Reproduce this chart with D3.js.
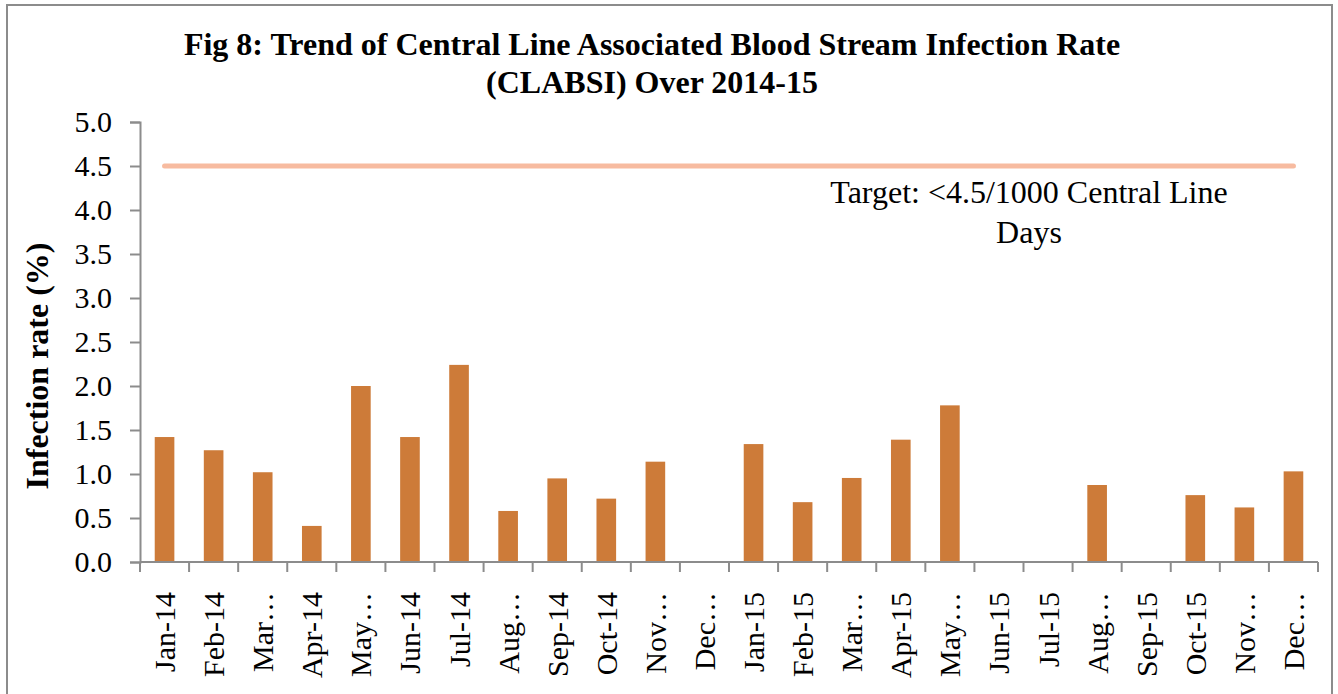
<!DOCTYPE html>
<html lang="en">
<head>
<meta charset="utf-8">
<title>Fig 8: CLABSI trend 2014-15</title>
<script src="https://d3js.org/d3.v7.min.js"></script>
<style>
  body { margin: 0; background: #fff; }
  text { font-family: "Liberation Serif", "Times New Roman", serif; fill: #000; }
</style>
</head>
<body>
<script>
// month labels as shown on the axis (Excel truncates some of them)
var months = ["Jan-14","Feb-14","Mar…","Apr-14","May…","Jun-14","Jul-14","Aug…","Sep-14","Oct-14","Nov…","Dec…",
              "Jan-15","Feb-15","Mar…","Apr-15","May…","Jun-15","Jul-15","Aug…","Sep-15","Oct-15","Nov…","Dec…"];
// infection rate per month
var rates = [1.42,1.27,1.02,0.41,2.0,1.42,2.24,0.58,0.95,0.72,1.14,0,
             1.34,0.68,0.955,1.39,1.78,0,0,0.875,0,0.76,0.62,1.03];
// target series
var target = months.map(function() { return 4.5; });
var yTicks = [0,0.5,1,1.5,2,2.5,3,3.5,4,4.5,5];

var w = 1338, h = 694;
var plotLeft = 140, plotRight = 1318, plotTop = 122, plotBottom = 562;

var svg = d3.select("body").append("svg")
    .attr("width", w)
    .attr("height", h);

// outer chart border
svg.append("rect")
    .attr("x", 7).attr("y", 5)
    .attr("width", 1325).attr("height", 700)
    .attr("fill", "none")
    .attr("stroke", "#8c8c8c")
    .attr("stroke-width", 2);

var x = d3.scaleBand()
    .domain(d3.range(months.length))
    .range([plotLeft, plotRight])
    .paddingInner(0.6)
    .paddingOuter(0.3);

var y = d3.scaleLinear()
    .domain([0, 5])
    .range([plotBottom, plotTop]);

// title
var title = svg.append("text")
    .attr("text-anchor", "middle")
    .style("font-weight", "bold")
    .style("font-size", "32px");
title.append("tspan").attr("x", 652).attr("y", 55)
    .text("Fig 8: Trend of Central Line Associated Blood Stream Infection Rate");
title.append("tspan").attr("x", 652).attr("y", 93)
    .text("(CLABSI) Over 2014-15");

// bars
svg.selectAll("rect.bar")
    .data(rates)
    .enter()
    .append("rect")
    .attr("class", "bar")
    .attr("x", function(d, i) { return x(i); })
    .attr("width", x.bandwidth())
    .attr("y", function(d) { return y(d); })
    .attr("height", function(d) { return y(0) - y(d); })
    .attr("fill", "#cd7b39");

// target line
var line = d3.line()
    .x(function(d, i) { return x(i) + x.bandwidth() / 2; })
    .y(function(d) { return y(d); });

svg.append("path")
    .datum(target)
    .attr("d", line)
    .attr("fill", "none")
    .attr("stroke", "#f7bba0")
    .attr("stroke-width", 5)
    .attr("stroke-linecap", "round");

// y axis
var yAxis = svg.append("g")
    .attr("transform", "translate(" + plotLeft + ",0)")
    .call(d3.axisLeft(y).tickValues(yTicks).tickFormat(d3.format(".1f")).tickSize(10).tickSizeOuter(10));
yAxis.select(".domain").attr("stroke", "#8c8c8c").attr("stroke-width", 2);
yAxis.selectAll(".tick line").attr("stroke", "#8c8c8c").attr("stroke-width", 2);
yAxis.selectAll(".tick text")
    .attr("x", -28)
    .style("font-size", "30px")
    .style("font-family", "'Liberation Serif', serif")
    .attr("fill", "#000");

// x axis: ticks sit between the categories
var step = x.step();
var edges = d3.range(months.length + 1).map(function(i) { return plotLeft + i * step; });
var xAxis = svg.append("g");
xAxis.append("line")
    .attr("x1", plotLeft).attr("x2", plotRight)
    .attr("y1", plotBottom).attr("y2", plotBottom)
    .attr("stroke", "#8c8c8c").attr("stroke-width", 2);
xAxis.selectAll("line.tick")
    .data(edges)
    .enter()
    .append("line")
    .attr("class", "tick")
    .attr("x1", function(d) { return d; }).attr("x2", function(d) { return d; })
    .attr("y1", plotBottom).attr("y2", plotBottom + 10)
    .attr("stroke", "#8c8c8c").attr("stroke-width", 2);

xAxis.selectAll("text")
    .data(months)
    .enter()
    .append("text")
    .attr("transform", function(d, i) {
        return "translate(" + (x(i) + x.bandwidth() / 2) + "," + 592 + ") rotate(-90)";
    })
    .attr("dy", "0.35em")
    .attr("text-anchor", "end")
    .style("font-size", "30px")
    .text(function(d) { return d; });

// y axis title
svg.append("text")
    .attr("transform", "translate(37,366) rotate(-90)")
    .attr("dy", "0.35em")
    .attr("text-anchor", "middle")
    .style("font-weight", "bold")
    .style("font-size", "32px")
    .text("Infection rate (%)");

// target annotation
var note = svg.append("text")
    .attr("text-anchor", "middle")
    .style("font-size", "32px");
note.append("tspan").attr("x", 1029).attr("y", 203).text("Target: <4.5/1000 Central Line");
note.append("tspan").attr("x", 1029).attr("y", 243).text("Days");
</script>
</body>
</html>
